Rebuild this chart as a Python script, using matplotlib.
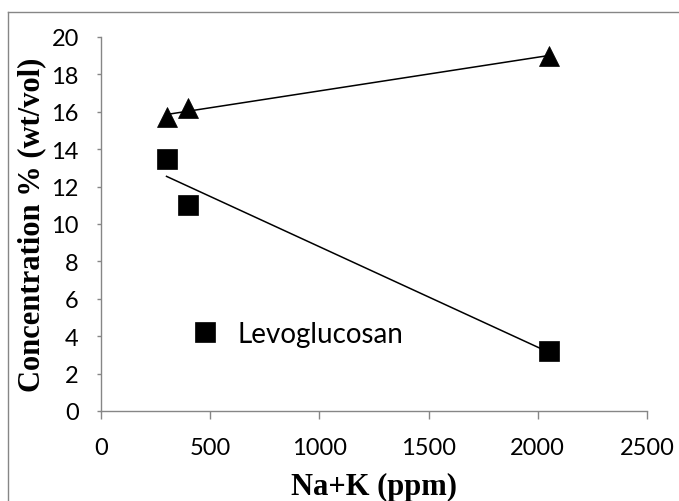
import numpy as np
import matplotlib
matplotlib.use("Agg")
import matplotlib.pyplot as plt
from matplotlib.lines import Line2D

# Na+K content vs concentration
na_k = [300, 400, 2050]
upper_series = [15.7, 16.2, 19.0]      # triangles
levoglucosan = [13.5, 11.0, 3.2]       # squares

x_ticks = [0, 500, 1000, 1500, 2000, 2500]
y_ticks = [0, 2, 4, 6, 8, 10, 12, 14, 16, 18, 20]

AXIS_GREY = "#868686"

fig = plt.figure(figsize=(6.79, 5.02), dpi=100)
ax = fig.add_axes([101 / 679, 1 - 412 / 502, 546 / 679, 374 / 502])

ax.plot(na_k, upper_series, linestyle="none", marker="^", ms=14.5,
        color="black", mew=0.5, clip_on=False, zorder=3)
ax.plot(na_k, levoglucosan, linestyle="none", marker="s", ms=14.5,
        color="black", mew=0.5, clip_on=False, zorder=3, label="Levoglucosan")

# linear trendlines over the data range
x_fit = np.array([min(na_k), max(na_k)])
for ys in (upper_series, levoglucosan):
    k, b = np.polyfit(na_k, ys, 1)
    ax.plot(x_fit, k * x_fit + b, color="black", lw=1.1, zorder=2)

ax.set_xlim(0, 2500)
ax.set_ylim(0, 20)
ax.set_xticks(x_ticks)
ax.set_yticks(y_ticks)

for side in ("top", "right"):
    ax.spines[side].set_visible(False)
for side in ("left", "bottom"):
    ax.spines[side].set_color(AXIS_GREY)
    ax.spines[side].set_linewidth(1.0)

ax.tick_params(axis="x", direction="out", length=5.8, width=1.0, color=AXIS_GREY,
               pad=13, labelsize=17, labelfontfamily="Lato")
ax.tick_params(axis="y", direction="out", length=3, width=1.0, color=AXIS_GREY,
               pad=13, labelsize=17, labelfontfamily="Lato")

ax.set_xlabel("Na+K (ppm)", fontsize=22, fontweight="bold",
              family="Liberation Serif", va="center")
ax.xaxis.set_label_coords(0.5, (412 - 487.5) / 374)
ax.set_ylabel("Concentration % (wt/vol)", fontsize=22, fontweight="bold",
              family="Liberation Serif", va="center")
ax.yaxis.set_label_coords((32 - 101) / 546, 0.5)

ax.legend(loc="center left", bbox_to_anchor=(191.6 / 679, 1 - 335 / 502),
          bbox_transform=fig.transFigure, frameon=False, borderpad=0,
          borderaxespad=0, handlelength=1.0, handletextpad=0.67,
          prop={"family": "Lato", "size": 20})

# chart area border (left and top edges visible)
fig.add_artist(Line2D([8 / 679, 8 / 679], [0, 1 - 13 / 502],
                      transform=fig.transFigure, color=AXIS_GREY, lw=1.0))
fig.add_artist(Line2D([8 / 679, 1], [1 - 13 / 502, 1 - 13 / 502],
                      transform=fig.transFigure, color=AXIS_GREY, lw=1.0))

fig.savefig("out.png", dpi=100)
